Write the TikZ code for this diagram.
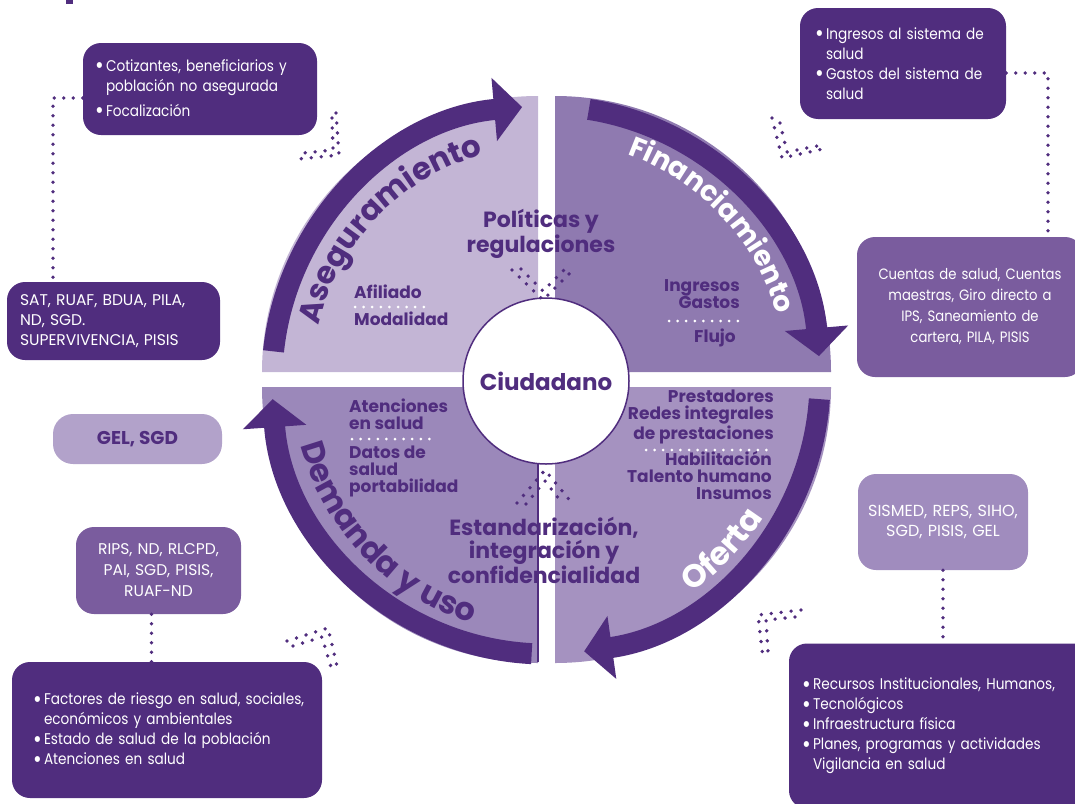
\documentclass[tikz,border=0pt]{standalone}
\usepackage{fontspec}
\setmainfont{Poppins}
\newfontfamily\narrowfont{Poppins}[FakeStretch=0.88]
\usetikzlibrary{positioning,arrows.meta,decorations.text}
\tikzset{>=latex}
\definecolor{purp}{RGB}{80,45,126}
\definecolor{qtl}{RGB}{195,181,213}
\definecolor{qtr}{RGB}{143,122,176}
\definecolor{qbl}{RGB}{155,136,186}
\definecolor{qbr}{RGB}{165,146,192}
\definecolor{boxmid}{RGB}{122,92,158}
\definecolor{boxlight}{RGB}{160,140,190}
\definecolor{boxpale}{RGB}{178,162,202}
\newcommand{\bl}[1]{\makebox[11pt][l]{\fontsize{24}{0}\selectfont\raisebox{-2.6pt}{\textbullet}}\mbox{#1}}
\newcommand{\ind}[1]{\hspace*{11pt}\mbox{#1}}
\tikzset{
  infobox/.style={fill=#1, rounded corners=18pt, text=white, inner sep=0pt,
    align=left, font=\narrowfont\fontsize{15.5}{20}\selectfont},
  bigarrow/.style={purp, line width=21pt, -{Triangle[length=28pt,width=62pt]}},
  dotline/.style={purp, line width=3.8pt, line cap=round, dash pattern=on 0pt off 9.5pt},
  sepdots/.style={white, line width=3pt, line cap=round, dash pattern=on 0pt off 8.6pt},
  lbl/.style={purp, font=\bfseries\fontsize{17}{16.8}\selectfont, inner sep=0pt},
  midlbl/.style={purp, font=\bfseries\fontsize{22}{25}\selectfont, inner sep=0pt, align=center},
  arclbl/.style={decorate, decoration={text along path, text align=center, text color=#1}},
}

\begin{document}
\begin{tikzpicture}[x=1pt,y=1pt]
  \pgfmathsetmacro{\R}{274}
  \pgfmathsetmacro{\Q}{276}
  \useasboundingbox (0,0) rectangle (1075,-803);
  \clip (0,0) rectangle (1075,-803);
  \coordinate (C) at (546,-380);
  \fill[purp] (66,0) rectangle (73,-4);

  \fill[qtl] (538,-372) -- (262,-372) arc (180:90:\Q) -- cycle;
  \fill[qtr] (555,-372) -- (555,-96) arc (90:0:\Q) -- cycle;
  \fill[qbl] (538,-387) -- (538,-663) arc (270:180:\Q) -- cycle;
  \fill[qbr] (555,-387) -- (831,-387) arc (0:-90:\Q) -- cycle;
  \draw[purp, line width=1.2pt] (538,-464) -- (538,-662);

  \draw[bigarrow, shift={(C)}] (174:\R) arc (174:95:\R);
  \draw[bigarrow, shift={(C)}] (81:\R) arc (81:5:\R);
  \draw[bigarrow, shift={(C)}] (-4:\R) arc (-4:-82:\R);
  \draw[bigarrow, shift={(C)}] (-93:\R) arc (-93:-176:\R);

  \path[arclbl=purp, decoration={text={|\bfseries\fontsize{31}{31}\selectfont|Aseguramiento}},
    shift={(C)}] (178:234) arc (178:94:234);
  \path[arclbl=white, decoration={text={|\bfseries\fontsize{28}{28}\selectfont|Financiamiento}},
    shift={(C)}] (86:240) arc (86:0:240);
  \path[arclbl=white, decoration={text={|\bfseries\fontsize{32}{32}\selectfont|Oferta}},
    shift={(C)}] (-89:257) arc (-89:1:257);
  \path[arclbl=purp, decoration={text={|\bfseries\fontsize{32}{32}\selectfont|Demanda y uso}},
    shift={(C)}] (181:254) arc (181:267:254);

  \node[circle, draw=purp, line width=1.5pt, fill=white, minimum size=166pt, inner sep=0pt,
    text=purp, font=\bfseries\fontsize{23}{23}\selectfont] (cit) at (546,-381) {Ciudadano};

  \node[midlbl, anchor=base] (pol) at (541,-252) {Políticas y\\regulaciones};
  \node[midlbl, anchor=base, font=\bfseries\fontsize{22}{22.5}\selectfont] (est) at (544,-583)
    {Estandarización,\\integración y\\confidencialidad};

  \node[lbl, anchor=base west] (afil) at (354,-298) {Afiliado};
  \draw[sepdots] (355,-307) -- (427,-307);
  \node[lbl, anchor=base west] (modal) at (354,-325) {Modalidad};

  \node[lbl, anchor=base east, align=right] (ingr) at (740,-308) {Ingresos\\Gastos};
  \draw[sepdots] (669,-321) -- (740,-321);
  \node[lbl, anchor=base east] (flujo) at (736,-342) {Flujo};

  \node[lbl, anchor=base west, align=left] (aten) at (349,-429) {Atenciones\\en salud};
  \draw[sepdots] (352,-439) -- (431,-439);
  \node[lbl, anchor=base west, align=left] (datos) at (349,-492) {Datos de\\salud\\portabilidad};

  \node[lbl, anchor=base east, align=right] (prest) at (774,-439)
    {Prestadores\\Redes integrales\\de prestaciones};
  \draw[sepdots] (646,-450) -- (774,-450);
  \node[lbl, anchor=base east, align=right] (habil) at (772,-499)
    {Habilitación\\Talento humano\\Insumos};

  \draw[dotline, dash pattern=on 0pt off 10pt] (512,-270) -- (543,-300) -- (574,-269);
  \draw[dotline, dash pattern=on 0pt off 10pt] (521,-269) -- (543,-291) -- (565,-269);
  \draw[dotline, dash pattern=on 0pt off 10pt] (517,-503) -- (545,-470) -- (572,-503);
  \draw[dotline, dash pattern=on 0pt off 10pt] (526,-504) -- (545,-481) -- (563,-504);

  \node[infobox=purp, minimum width=234pt, minimum height=92pt, text width=210pt] (asegbox)
    at (200,-89) {\bl{Cotizantes, beneficiarios y}\\\ind{población no asegurada}\\[5pt]\bl{Focalización}};
  \node[infobox=purp, minimum width=206pt, minimum height=111pt, text width=176pt] (finbox)
    at (903,-63.5) {\bl{Ingresos al sistema de}\\\ind{salud}\\\bl{Gastos del sistema de}\\\ind{salud}};
  \node[infobox=purp, minimum width=213pt, minimum height=78pt, text width=187pt,
    font=\fontsize{15.5}{20}\selectfont] (satbox)
    at (113.5,-321) {SAT, RUAF, BDUA, PILA,\\ND, SGD.\\SUPERVIVENCIA, PISIS};
  \node[infobox=boxmid, minimum width=226pt, minimum height=140pt, text width=206pt, align=center,
    font=\narrowfont\fontsize{15}{21}\selectfont] (ctabox) at (970,-307)
    {Cuentas de salud, Cuentas\\maestras, Giro directo a\\IPS, Saneamiento de\\cartera, PILA, PISIS};
  \node[infobox=boxpale, rounded corners=20pt, minimum width=169pt, minimum height=50pt, text=purp,
    font=\bfseries\fontsize{18.5}{20}\selectfont] (gelbox) at (137.5,-439) {GEL, SGD};
  \node[infobox=boxmid, minimum width=165pt, minimum height=87pt, text width=155pt, align=center,
    font=\fontsize{15.5}{21}\selectfont] (ripsbox) at (158.5,-570.5) {RIPS, ND, RLCPD,\\PAI, SGD, PISIS,\\RUAF-ND};
  \node[infobox=purp, minimum width=310pt, minimum height=136pt, text width=268pt] (dembox)
    at (167,-730) {\bl{Factores de riesgo en salud, sociales,}\\\ind{económicos y ambientales}\\
    \bl{Estado de salud de la población}\\\bl{Atenciones en salud}};
  \node[infobox=boxlight, minimum width=170pt, minimum height=96pt, text width=164pt, align=center,
    font=\fontsize{16}{20}\selectfont] (sisbox) at (943,-522) {SISMED, REPS, SIHO,\\SGD, PISIS, GEL};
  \node[infobox=purp, minimum width=302pt, minimum height=165pt, text width=276pt] (ofebox)
    at (940,-726) {\bl{Recursos Institucionales, Humanos,}\\\bl{Tecnológicos}\\\bl{Infraestructura física}\\
    \bl{Planes, programas y actividades}\\\ind{Vigilancia en salud}};

  \coordinate (satin) at (53,-283);
  \coordinate (ctain) at (1048,-237);
  \draw[dotline] ([yshift=-9pt]asegbox.west) -| (satin);
  \draw[dotline] ([yshift=-9.5pt]finbox.east) -| (ctain);
  \draw[dotline] ([xshift=-7pt]ripsbox.south) -- ([xshift=-7pt]ripsbox.south |- dembox.north);
  \draw[dotline] (sisbox.south) -- (sisbox.south |- ofebox.north);

  \draw[dotline, dash pattern=on 0pt off 10pt] (332,-118) -- (333,-150) -- (303,-153);
  \draw[dotline, dash pattern=on 0pt off 10pt] (336,-113) -- (339,-155) -- (298,-159);
  \draw[dotline, dash pattern=on 0pt off 10pt] (772,-118) -- (782,-158) -- (823,-149);
  \draw[dotline, dash pattern=on 0pt off 10pt] (780,-123) -- (787,-152) -- (817,-146);
  \draw[dotline, dash pattern=on 0pt off 10pt] (287,-641) -- (328,-628) -- (338,-670);
  \draw[dotline, dash pattern=on 0pt off 10pt] (293,-646) -- (322,-637) -- (331,-667);
  \draw[dotline, dash pattern=on 0pt off 10pt] (801,-610) -- (758,-615) -- (763,-658);
  \draw[dotline, dash pattern=on 0pt off 10pt] (795,-617) -- (766,-620) -- (768,-652);
\end{tikzpicture}
\end{document}
